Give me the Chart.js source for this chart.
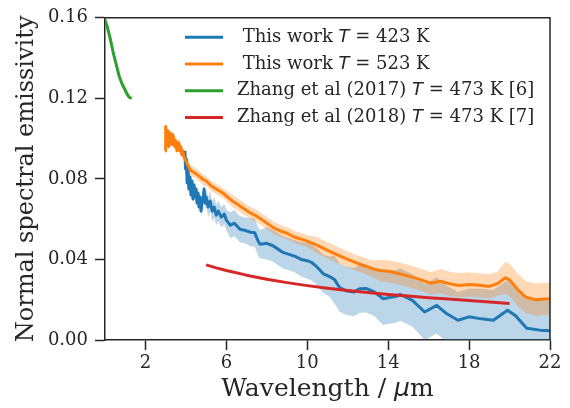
<!DOCTYPE html>
<html><head><meta charset="utf-8">
<script src="https://cdn.jsdelivr.net/npm/chart.js@4.4.0/dist/chart.umd.min.js"></script>
<style>html,body{margin:0;padding:0;background:#fff}canvas{display:block}</style>
</head><body>
<canvas id="c" width="570" height="408"></canvas>
<script>
// ---- data ----
const xTicks = [2, 6, 10, 14, 18, 22];
const yTicks = [0, 0.04, 0.08, 0.12, 0.16];

const blueX = [3.95,3.98,4.02,4.06,4.10,4.15,4.20,4.25,4.30,4.35,4.40,4.45,4.50,4.55,4.60,4.65,4.70,4.75,4.80,4.85,4.90,4.95,5.00,5.10,5.20,5.30,5.40,5.50,5.60,5.75,5.90,6.00,6.20,6.40,6.67,6.90,7.20,7.40,7.55,7.66,8.00,8.30,8.50,8.80,9.10,9.40,9.70,10.0,10.2,10.4,10.6,10.8,11.1,11.35,11.6,11.9,12.3,12.6,12.9,13.3,13.75,14.0,14.4,14.6,15.2,15.8,16.4,16.9,17.45,18.0,18.6,19.2,19.9,20.3,20.85,21.5,22.0];
const blueY = [0.094,0.085,0.090,0.078,0.086,0.075,0.081,0.072,0.079,0.070,0.077,0.071,0.075,0.068,0.073,0.066,0.071,0.064,0.069,0.070,0.075,0.068,0.071,0.066,0.069,0.064,0.066,0.062,0.064,0.061,0.0625,0.0595,0.057,0.058,0.055,0.0545,0.0535,0.0533,0.0495,0.0476,0.048,0.0468,0.0455,0.0435,0.0425,0.0415,0.040,0.0394,0.0386,0.037,0.035,0.0328,0.0315,0.030,0.026,0.0245,0.0238,0.0255,0.0256,0.024,0.0205,0.021,0.0217,0.0226,0.0197,0.0139,0.0172,0.013,0.0098,0.0115,0.0105,0.0098,0.0148,0.012,0.0058,0.0049,0.0046];
const blueErr = [0.003,0.003,0.003,0.003,0.003,0.003,0.003,0.003,0.003,0.003,0.003,0.003,0.003,0.003,0.003,0.003,0.003,0.003,0.004,0.004,0.004,0.004,0.004,0.005,0.005,0.005,0.005,0.005,0.005,0.005,0.005,0.005,0.0065,0.0065,0.0065,0.0065,0.007,0.007,0.007,0.007,0.008,0.008,0.008,0.008,0.008,0.008,0.0085,0.009,0.009,0.009,0.0095,0.0095,0.01,0.012,0.012,0.012,0.012,0.012,0.012,0.012,0.013,0.013,0.013,0.013,0.013,0.014,0.014,0.014,0.014,0.014,0.015,0.015,0.015,0.015,0.015,0.015,0.015];

const orangeX = [2.97,3.00,3.05,3.10,3.15,3.20,3.25,3.30,3.35,3.40,3.45,3.50,3.55,3.60,3.65,3.70,3.75,3.80,3.85,3.90,4.00,4.20,4.50,4.70,4.85,5.00,5.25,5.50,5.83,6.00,6.30,6.67,6.90,7.17,7.50,7.80,8.32,8.70,9.00,9.40,9.97,10.5,11.0,11.6,12.0,12.5,13.26,13.6,14.1,14.6,15.2,15.6,16.1,16.6,17.0,17.5,18.0,18.5,19.0,19.4,19.8,20.0,20.4,20.8,21.3,22.0];
const orangeY = [0.094,0.106,0.099,0.104,0.096,0.103,0.101,0.097,0.102,0.100,0.096,0.099,0.094,0.097,0.098,0.094,0.096,0.092,0.094,0.091,0.089,0.0845,0.0825,0.081,0.0796,0.079,0.0765,0.075,0.073,0.0715,0.069,0.0665,0.065,0.0632,0.0615,0.0595,0.0558,0.054,0.053,0.051,0.0492,0.047,0.0445,0.0418,0.040,0.038,0.0353,0.0345,0.0340,0.0328,0.0312,0.0300,0.0282,0.0292,0.0280,0.0271,0.0276,0.0272,0.0266,0.0280,0.0309,0.0299,0.0250,0.0213,0.0200,0.0205];
const orangeErr = [0.002,0.002,0.002,0.002,0.002,0.002,0.002,0.002,0.002,0.002,0.002,0.002,0.002,0.002,0.002,0.002,0.002,0.002,0.002,0.002,0.0025,0.0025,0.0025,0.0025,0.0025,0.0025,0.0025,0.0025,0.0025,0.0025,0.003,0.003,0.003,0.003,0.003,0.003,0.003,0.003,0.003,0.003,0.003,0.004,0.004,0.004,0.004,0.004,0.004,0.0055,0.0055,0.0055,0.0055,0.0055,0.0055,0.006,0.006,0.006,0.006,0.006,0.006,0.006,0.008,0.008,0.008,0.008,0.008,0.008];

const greenX = [0.0,0.1,0.25,0.4,0.55,0.7,0.85,1.0,1.1,1.2,1.32];
const greenY = [0.159,0.156,0.150,0.143,0.137,0.131,0.127,0.124,0.122,0.1205,0.120];

const redX = [5.0,5.5,6,7,8,9,10,11,12,13,14,15,16,17,18,19,20];
const redY = [0.0373,0.0358,0.0345,0.0322,0.0302,0.0285,0.0270,0.0257,0.0246,0.0236,0.0226,0.0218,0.0210,0.0203,0.0196,0.0189,0.0181];

const legendLabels = [
  [' This work ', 'T', ' = 423 K'],
  [' This work ', 'T', ' = 523 K'],
  ['Zhang et al (2017) ', 'T', ' = 473 K [6]'],
  ['Zhang et al (2018) ', 'T', ' = 473 K [7]']
];
const xTitleParts = ['Wavelength / ', 'μ', 'm'];
const yTitle = 'Normal spectral emissivity';

// ---- styling ----
const C_BLUE = '#1f77b4', C_ORANGE = '#ff7f0e', C_GREEN = '#2ca02c', C_RED = '#d62728';
const legendColors = [C_BLUE, C_ORANGE, C_GREEN, C_RED];
const SERIF = '"DejaVu Serif", serif';
const MATH = '"DejaVu Sans", sans-serif';
const INK = '#262626';

function pts(xs, ys) { return xs.map((x, i) => ({x: x, y: ys[i]})); }
function band(xs, ys, es, s) { return xs.map((x, i) => ({x: x, y: ys[i] + s * es[i]})); }

function drawParts(ctx, parts, x, y, size, align) {
  const fonts = parts.map((p, i) => (i % 2 === 1 ? 'italic ' + size + 'px ' + MATH : size + 'px ' + SERIF));
  const widths = parts.map((p, i) => { ctx.font = fonts[i]; return ctx.measureText(p).width; });
  const total = widths.reduce((a, b) => a + b, 0);
  let cx = align === 'center' ? x - total / 2 : x;
  ctx.textAlign = 'left';
  ctx.textBaseline = 'middle';
  parts.forEach((p, i) => { ctx.font = fonts[i]; ctx.fillText(p, cx, y); cx += widths[i]; });
}

const decor = {
  id: 'decor',
  afterDraw(chart) {
    const ctx = chart.ctx, a = chart.chartArea;
    ctx.save();
    ctx.strokeStyle = INK; ctx.lineWidth = 1.5;
    ctx.beginPath();
    ctx.moveTo(a.left, a.top); ctx.lineTo(a.right, a.top); ctx.lineTo(a.right, a.bottom);
    ctx.stroke();
    const rowY0 = 37.3, rowDy = 26.7;
    legendLabels.forEach((parts, i) => {
      const y = rowY0 + i * rowDy;
      ctx.strokeStyle = legendColors[i]; ctx.lineWidth = 3;
      ctx.beginPath(); ctx.moveTo(185, y); ctx.lineTo(223, y); ctx.stroke();
      ctx.fillStyle = INK;
      drawParts(ctx, parts, 237, y, 18, 'left');
    });
    ctx.fillStyle = INK;
    drawParts(ctx, xTitleParts, (a.left + a.right) / 2, 389, 25, 'center');
    ctx.restore();
  }
};

new Chart(document.getElementById('c'), {
  type: 'line',
  data: {
    datasets: [
      {data: band(blueX, blueY, blueErr, 1), borderWidth: 0, borderColor: 'rgba(0,0,0,0)', fill: false, order: 7},
      {data: band(blueX, blueY, blueErr, -1), borderWidth: 0, borderColor: 'rgba(0,0,0,0)', fill: '-1', backgroundColor: 'rgba(31,119,180,0.3)', order: 6},
      {data: band(orangeX, orangeY, orangeErr, 1), borderWidth: 0, borderColor: 'rgba(0,0,0,0)', fill: false, order: 5},
      {data: band(orangeX, orangeY, orangeErr, -1), borderWidth: 0, borderColor: 'rgba(0,0,0,0)', fill: '-1', backgroundColor: 'rgba(255,127,14,0.3)', order: 4},
      {label: 'This work T = 423 K', data: pts(blueX, blueY), borderColor: C_BLUE, borderWidth: 3, fill: false, order: 3},
      {label: 'This work T = 523 K', data: pts(orangeX, orangeY), borderColor: C_ORANGE, borderWidth: 3, fill: false, order: 2},
      {label: 'Zhang et al (2017) T = 473 K [6]', data: pts(greenX, greenY), borderColor: C_GREEN, borderWidth: 3, fill: false, order: 1},
      {label: 'Zhang et al (2018) T = 473 K [7]', data: pts(redX, redY), borderColor: C_RED, borderWidth: 3, fill: false, order: 0}
    ]
  },
  options: {
    responsive: false, animation: false, devicePixelRatio: 1,
    layout: {padding: {top: 15, right: 20, bottom: 0, left: 0}},
    plugins: {legend: {display: false}, tooltip: {enabled: false}},
    elements: {point: {radius: 0}, line: {tension: 0, borderJoinStyle: 'round'}},
    scales: {
      x: {
        type: 'linear', min: 0, max: 22,
        afterBuildTicks: s => { s.ticks = xTicks.map(v => ({value: v})); },
        afterFit: s => { s.height = 68; },
        ticks: {autoSkip: false, maxRotation: 0, font: {family: SERIF, size: 18}, color: INK, padding: 3, callback: v => String(v)},
        grid: {drawOnChartArea: false, tickLength: 10, tickColor: INK, tickWidth: 1.5},
        border: {color: INK, width: 1.5},
        title: {display: false}
      },
      y: {
        type: 'linear', min: 0, max: 0.16,
        afterBuildTicks: s => { s.ticks = yTicks.map(v => ({value: v})); },
        afterFit: s => { s.width = 105; },
        ticks: {font: {family: SERIF, size: 18}, color: INK, padding: 7, callback: v => Number(v).toFixed(2)},
        grid: {drawOnChartArea: false, tickLength: 10, tickColor: INK, tickWidth: 1.5},
        border: {color: INK, width: 1.5},
        title: {display: true, text: yTitle, font: {family: SERIF, size: 24}, color: INK, padding: {top: 12, bottom: 0}}
      }
    }
  },
  plugins: [decor]
});
</script>
</body></html>
